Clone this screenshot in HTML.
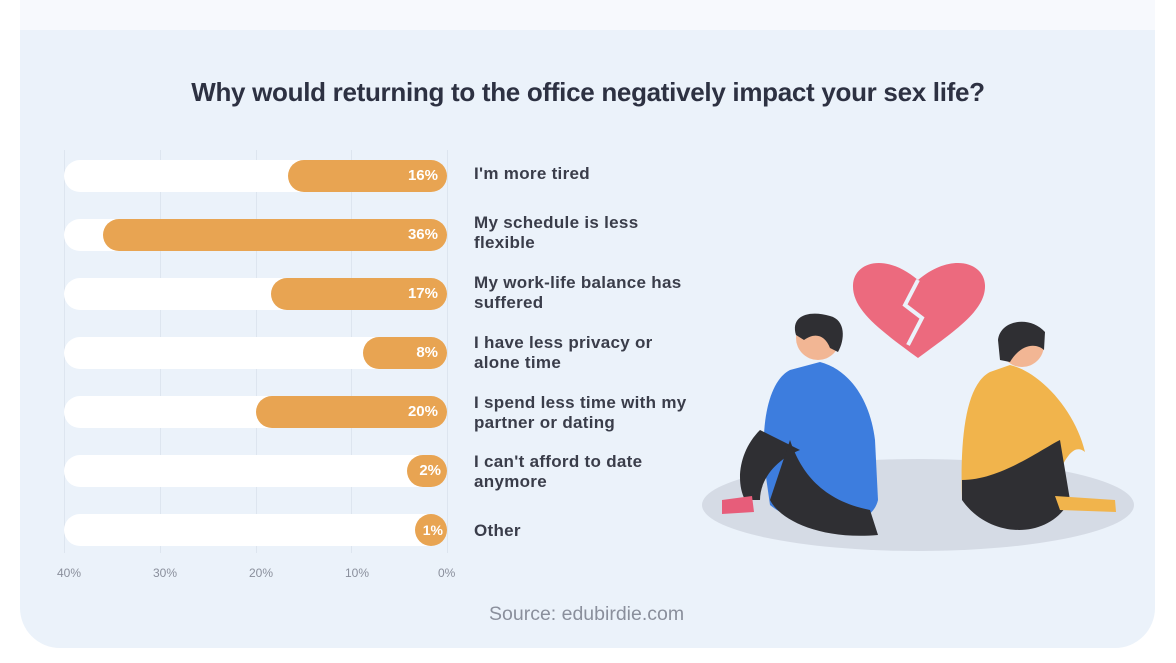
<!DOCTYPE html>
<html><head><meta charset="utf-8"><style>
body{margin:0;width:1176px;height:663px;background:#fff;position:relative;overflow:hidden;font-family:"Liberation Sans",sans-serif}
.top{position:absolute;left:20px;top:0;width:1135px;height:30px;background:#f7f9fd}
.card{position:absolute;left:20px;top:30px;width:1135px;height:618px;background:#ebf2fa;border-radius:0 0 40px 40px}
.title{position:absolute;left:0;width:1176px;top:77px;text-align:center;font-size:26px;font-weight:bold;color:#2d3142;letter-spacing:-0.3px}
.grid{position:absolute;top:150px;height:403px;width:1px;background:#dde5ef}
.track{position:absolute;left:64px;width:383px;height:32px;background:#fff;border-radius:16px}
.bar{position:absolute;height:32px;background:#e8a452;border-radius:16px;color:#fff;font-size:15px;font-weight:bold;line-height:32px;text-align:right;box-sizing:border-box;padding-right:9px}
.lab{position:absolute;left:474px;font-size:17px;font-weight:bold;color:#3a3d4a;line-height:20px;letter-spacing:0.3px}
.tick{position:absolute;top:566px;font-size:12px;color:#8a8f9c}
.src{position:absolute;top:603px;left:489px;font-size:19.5px;color:#8a8f9c}
</style></head><body>
<div class="top"></div><div class="card"></div>
<div class="title">Why would returning to the office negatively impact your sex life?</div>
<div class="grid" style="left:64px"></div><div class="grid" style="left:160px"></div><div class="grid" style="left:256px"></div><div class="grid" style="left:351px"></div><div class="grid" style="left:447px"></div>

<div class="track" style="top:160px"></div><div class="bar" style="top:160px;left:288px;width:159px">16%</div>
<div class="track" style="top:219px"></div><div class="bar" style="top:219px;left:103px;width:344px">36%</div>
<div class="track" style="top:278px"></div><div class="bar" style="top:278px;left:271px;width:176px">17%</div>
<div class="track" style="top:337px"></div><div class="bar" style="top:337px;left:363px;width:84px">8%</div>
<div class="track" style="top:396px"></div><div class="bar" style="top:396px;left:256px;width:191px">20%</div>
<div class="track" style="top:455px"></div><div class="bar" style="top:455px;left:407px;width:40px;padding-right:6px">2%</div>
<div class="track" style="top:514px"></div><div class="bar" style="top:514px;left:415px;width:32px;padding-right:4px;font-size:14px">1%</div>

<div class="lab" style="top:164px">I'm more tired</div>
<div class="lab" style="top:213px">My schedule is less<br>flexible</div>
<div class="lab" style="top:273px">My work-life balance has<br>suffered</div>
<div class="lab" style="top:333px">I have less privacy or<br>alone time</div>
<div class="lab" style="top:393px">I spend less time with my<br>partner or dating</div>
<div class="lab" style="top:452px">I can't afford to date<br>anymore</div>
<div class="lab" style="top:521px">Other</div>

<div class="tick" style="left:57px">40%</div><div class="tick" style="left:153px">30%</div><div class="tick" style="left:249px">20%</div><div class="tick" style="left:345px">10%</div><div class="tick" style="left:438px">0%</div>
<div class="src">Source: edubirdie.com</div>

<svg style="position:absolute;left:0;top:0" width="1176" height="663">
<ellipse cx="918" cy="505" rx="216" ry="46" fill="#d5dbe5"/>
<path d="M918 358 C880 330 852 310 853 285 C854 262 885 252 918 280 C951 252 984 262 985 285 C986 310 956 330 918 358Z" fill="#ec6a7e"/>
<path d="M918 280 L905 305 L922 318 L908 345" stroke="#ebf2fa" stroke-width="4" fill="none"/>
<path d="M790 370 C770 380 760 420 765 470 L770 505 C800 530 870 535 878 500 L875 440 C870 400 850 370 820 362Z" fill="#3d7dde"/>
<path d="M760 430 C740 450 735 480 745 500 L760 500 C760 480 775 460 800 450Z" fill="#2f2f33"/>
<path d="M790 440 C800 470 820 500 870 510 L878 535 C820 540 780 520 770 500Z" fill="#2f2f33"/>
<path d="M722 500 L752 496 L754 512 L722 514Z" fill="#e75d7a"/>
<circle cx="818" cy="338" r="22" fill="#f2b694"/>
<path d="M796 335 C790 315 810 310 830 316 C846 320 845 340 838 352 L830 348 C825 335 815 332 804 340Z" fill="#2f2f33"/>
<path d="M990 372 C965 385 960 440 962 500 L1045 505 C1060 470 1070 440 1085 452 C1075 410 1040 372 1010 365Z" fill="#f1b44c"/>
<path d="M962 500 C990 540 1050 540 1070 500 L1060 440 C1040 450 1000 480 962 480Z" fill="#2f2f33"/>
<path d="M1055 496 L1115 500 L1116 512 L1060 510Z" fill="#f1b44c"/>
<circle cx="1022" cy="345" r="22" fill="#f2b694"/>
<path d="M998 340 C1000 320 1030 315 1045 332 L1044 350 C1035 342 1020 345 1010 362 L1000 360Z" fill="#2f2f33"/>
</svg>
</body></html>
